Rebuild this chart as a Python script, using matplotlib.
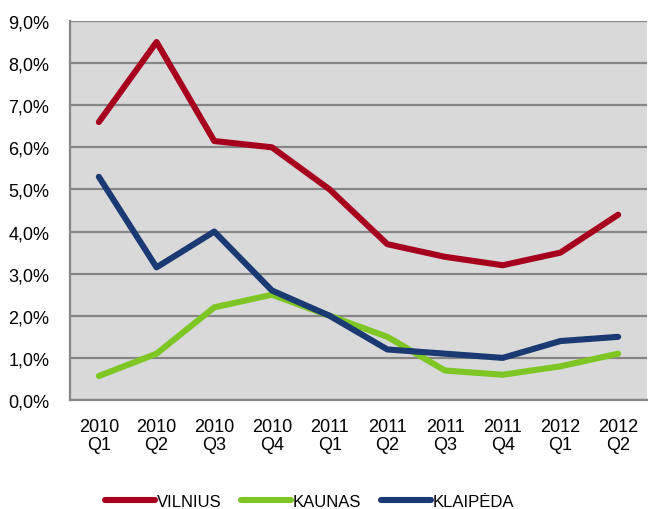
import matplotlib.pyplot as plt
import matplotlib.ticker as mticker

# ── Data ──────────────────────────────────────
quarters = ["2010\nQ1", "2010\nQ2", "2010\nQ3", "2010\nQ4", "2011\nQ1",
            "2011\nQ2", "2011\nQ3", "2011\nQ4", "2012\nQ1", "2012\nQ2"]
vilnius = [6.6, 8.5, 6.15, 6.0, 5.0, 3.7, 3.4, 3.2, 3.5, 4.4]
kaunas = [0.57, 1.1, 2.2, 2.5, 2.0, 1.5, 0.7, 0.6, 0.8, 1.1]
klaipeda = [5.3, 3.15, 4.0, 2.6, 2.0, 1.2, 1.1, 1.0, 1.4, 1.5]

series_names = ["VILNIUS", "KAUNAS", "KLAIPĖDA"]
colors = ["#A6001E", "#7DC623", "#1B3A73"]

plt.rcParams["font.family"] = ["Liberation Sans", "DejaVu Sans"]

# ── Plot ──────────────────────────────────────
fig = plt.figure(figsize=(6.48, 5.10), dpi=100)
ax = fig.add_axes([70 / 648, 1 - 401 / 510, 577 / 648, 379 / 510])
ax.set_facecolor("#D9D9D9")

x = list(range(len(quarters)))
for vals, name, c in zip([vilnius, kaunas, klaipeda], series_names, colors):
    ax.plot(x, vals, color=c, linewidth=4.4, solid_capstyle="round",
            solid_joinstyle="round", label=name, zorder=3)

ax.set_xlim(-0.5, len(quarters) - 0.5)
ax.set_ylim(0, 9)
ax.yaxis.set_major_locator(mticker.MultipleLocator(1))
ax.yaxis.set_major_formatter(
    mticker.FuncFormatter(lambda v, _: f"{v:.1f}%".replace(".", ",")))
ax.set_xticks(x)
ax.set_xticklabels(quarters, linespacing=1.05)

ax.grid(axis="y", color="#868686", linewidth=1.6, zorder=1)
ax.set_axisbelow(True)
for side in ["top", "right"]:
    ax.spines[side].set_visible(False)
for side in ["left", "bottom"]:
    ax.spines[side].set_color("#868686")
    ax.spines[side].set_linewidth(1.6)

ax.tick_params(axis="both", length=0, labelsize=13, colors="black")
ax.tick_params(axis="y", pad=15)
ax.tick_params(axis="x", pad=13)

fig.legend(loc="lower center", bbox_to_anchor=(0.478, -0.03), ncol=3,
           frameon=False, fontsize=12, handlelength=3.0, handletextpad=0.1,
           columnspacing=1.2)

fig.savefig("out.png", dpi=100)
